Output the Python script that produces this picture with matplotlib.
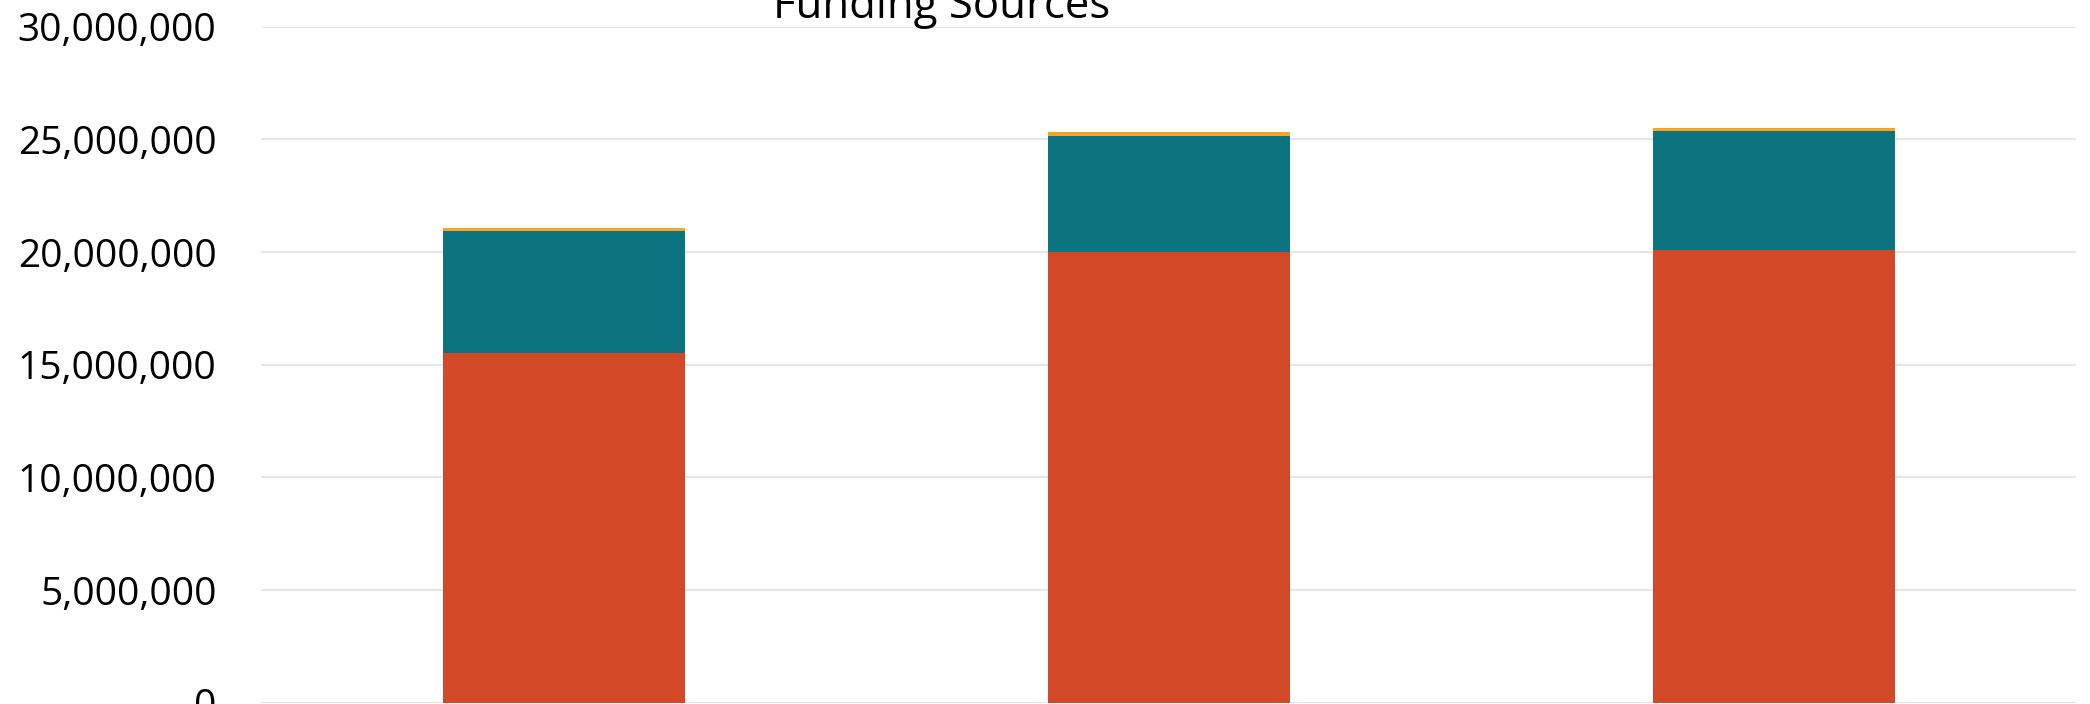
import matplotlib
matplotlib.use("Agg")
import matplotlib.pyplot as plt
from matplotlib.ticker import FuncFormatter
import numpy as np

categories = ["Year 1", "Year 2", "Year 3"]
series_names = ["Source A", "Source B", "Source C"]
source_a = [15.50e6, 20.00e6, 20.11e6]
source_b = [5.44e6, 5.17e6, 5.24e6]
source_c = [0.11e6, 0.16e6, 0.16e6]
colors = ["#D34826", "#0B7480", "#F7A523"]
yticks = [0, 5e6, 10e6, 15e6, 20e6, 25e6, 30e6]

plt.rcParams['font.family'] = ['Open Sans', 'DejaVu Sans']

fig = plt.figure(figsize=(20.9, 7.04), dpi=100)
ax = fig.add_axes([261/2090, 1.3/704, 1815/2090, 676/704])

x = np.arange(len(categories))
bottom = np.zeros(len(categories))
for vals, col, name in zip([source_a, source_b, source_c], colors, series_names):
    ax.bar(x, vals, width=0.4, bottom=bottom, color=col, label=name, zorder=3)
    bottom += np.array(vals)

ax.set_xlim(-0.5, len(categories) - 0.5)
ax.set_ylim(0, 30e6)
ax.set_yticks(yticks)
ax.yaxis.set_major_formatter(FuncFormatter(lambda v, p: f"{int(v):,}"))
ax.tick_params(axis='y', length=0, pad=32, labelsize=28)
ax.set_xticks(x)
ax.set_xticklabels([])
ax.tick_params(axis='x', length=0)
for s in ax.spines.values():
    s.set_visible(False)
ax.grid(axis='y', color='#E6E6E6', linewidth=1.5, zorder=0)
ax.set_axisbelow(True)

fig.text(942/2090, 1 - 18/704, "Funding Sources", ha='center', va='baseline', fontsize=31.5)

fig.savefig("out.png", dpi=100)
